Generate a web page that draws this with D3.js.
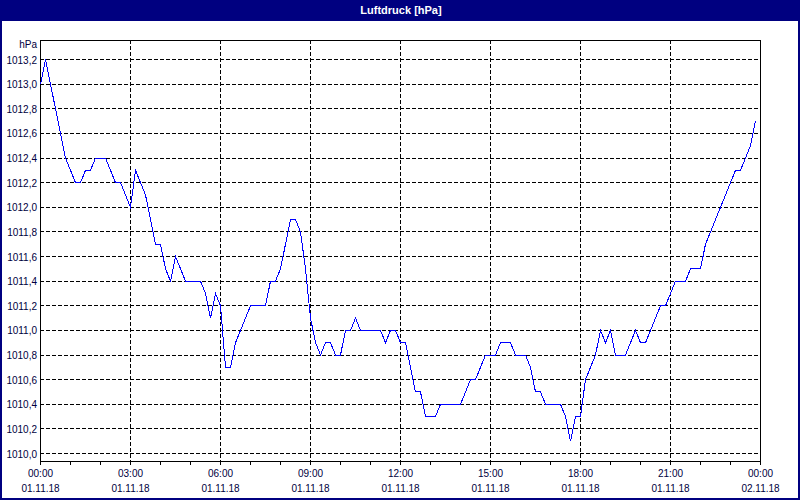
<!DOCTYPE html>
<html>
<head>
<meta charset="utf-8">
<script src="https://cdn.jsdelivr.net/npm/d3@7"></script>
<style>
html,body{margin:0;padding:0;background:#fff;}
svg{display:block;}
text{font-family:"Liberation Sans",Arial,sans-serif;}
</style>
</head>
<body>
<svg id="chart" width="800" height="500"></svg>
<script>
// ---- data ----
const title = "Luftdruck [hPa]";
const unitLabel = "hPa";
const startTime = "2018-11-01T00:00:00";
const endTime = "2018-11-02T00:00:00";
const sampleMinutes = 10;
// air pressure readings, one every 10 minutes from 00:00 to 23:50
const pressure = [
  1013.0,1013.2,1013.0,1012.8,1012.6,1012.4,1012.3,1012.2,1012.2,1012.3,
  1012.3,1012.4,1012.4,1012.4,1012.3,1012.2,1012.2,1012.1,1012.0,1012.3,
  1012.2,1012.1,1011.9,1011.7,1011.7,1011.5,1011.4,1011.6,1011.5,1011.4,
  1011.4,1011.4,1011.4,1011.3,1011.1,1011.3,1011.2,1010.7,1010.7,1010.9,
  1011.0,1011.1,1011.2,1011.2,1011.2,1011.2,1011.4,1011.4,1011.5,1011.7,
  1011.9,1011.9,1011.8,1011.5,1011.1,1010.9,1010.8,1010.9,1010.9,1010.8,
  1010.8,1011.0,1011.0,1011.1,1011.0,1011.0,1011.0,1011.0,1011.0,1010.9,
  1011.0,1011.0,1010.9,1010.9,1010.7,1010.5,1010.5,1010.3,1010.3,1010.3,
  1010.4,1010.4,1010.4,1010.4,1010.4,1010.5,1010.6,1010.6,1010.7,1010.8,
  1010.8,1010.8,1010.9,1010.9,1010.9,1010.8,1010.8,1010.8,1010.7,1010.5,
  1010.5,1010.4,1010.4,1010.4,1010.4,1010.3,1010.1,1010.3,1010.3,1010.6,
  1010.7,1010.8,1011.0,1010.9,1011.0,1010.8,1010.8,1010.8,1010.9,1011.0,
  1010.9,1010.9,1011.0,1011.1,1011.2,1011.2,1011.3,1011.4,1011.4,1011.4,
  1011.5,1011.5,1011.5,1011.7,1011.8,1011.9,1012.0,1012.1,1012.2,1012.3,
  1012.3,1012.4,1012.5,1012.7
];
const yTicks = [1010.0,1010.2,1010.4,1010.6,1010.8,1011.0,1011.2,1011.4,1011.6,1011.8,1012.0,1012.2,1012.4,1012.6,1012.8,1013.0,1013.2];
const xTickHours = [0,3,6,9,12,15,18,21,24];

// ---- layout ----
const W = 800, H = 500;
const L = 40, R = 760, T = 40, B = 461;
const navy = "#000080", textCol = "#000040";

const svg = d3.select("#chart");
const parse = d3.isoParse;
const t0 = parse(startTime), t1 = parse(endTime);
const times = d3.timeMinute.every(sampleMinutes).range(t0, t1);
const data = pressure.map((v, i) => ({t: times[i], v}));

const x = d3.scaleTime().domain([t0, t1]).range([L + 0.5, R + 0.5]);
const y = d3.scaleLinear().domain([1010.0, 1013.2]).range([453.5, 59.5]);

// background + frame
svg.append("rect").attr("x",0).attr("y",0).attr("width",W).attr("height",H).attr("fill","#fff");
svg.append("rect").attr("x",1).attr("y",1).attr("width",W-2).attr("height",H-2)
  .attr("fill","none").attr("stroke",navy).attr("stroke-width",2);
svg.append("rect").attr("x",0).attr("y",0).attr("width",W).attr("height",21).attr("fill",navy);
svg.append("text").attr("x",401).attr("y",14).attr("text-anchor","middle")
  .attr("fill","#fff").attr("font-weight","bold").attr("font-size","11px").text(title);

// horizontal grid
const g = svg.append("g").attr("shape-rendering","crispEdges");
g.selectAll(".hg").data(yTicks).join("line")
  .attr("x1", L).attr("x2", R)
  .attr("y1", d => Math.round(y(d) - 0.5) + 0.5).attr("y2", d => Math.round(y(d) - 0.5) + 0.5)
  .attr("stroke","#000").attr("stroke-dasharray","4,2");

// vertical grid every 3 hours
const vTimes = xTickHours.map(h => d3.timeHour.offset(t0, h));
g.selectAll(".vg").data(vTimes.slice(1, -1)).join("line")
  .attr("x1", d => Math.round(x(d) - 0.5) + 0.5).attr("x2", d => Math.round(x(d) - 0.5) + 0.5)
  .attr("y1", T).attr("y2", B)
  .attr("stroke","#000").attr("stroke-dasharray","4,2");

// plot frame
g.append("rect").attr("x", L + 0.5).attr("y", T + 0.5).attr("width", R - L).attr("height", B - T)
  .attr("fill","none").attr("stroke","#000");

// hourly ticks below axis
const hours = d3.timeHour.range(t0, d3.timeHour.offset(t1, 1));
g.selectAll(".tk").data(hours).join("line")
  .attr("x1", d => Math.round(x(d) - 0.5) + 0.5).attr("x2", d => Math.round(x(d) - 0.5) + 0.5)
  .attr("y1", B + 0.5).attr("y2", B + 4)
  .attr("stroke","#000");

// y labels
const fmtY = d => d.toFixed(1).replace(".", ",");
svg.selectAll(".yl").data(yTicks).join("text")
  .attr("x", 37).attr("y", d => y(d) + 4)
  .attr("text-anchor","end").attr("font-size","10px").attr("fill",textCol)
  .text(fmtY);
svg.append("text").attr("x", 37).attr("y", 48).attr("text-anchor","end")
  .attr("font-size","10px").attr("fill",textCol).text(unitLabel);

// x labels
const fmtT = d3.timeFormat("%H:%M"), fmtD = d3.timeFormat("%d.%m.%y");
const xl = svg.selectAll(".xl").data(vTimes).join("g");
xl.append("text").attr("x", d => x(d)).attr("y", 477).attr("text-anchor","middle")
  .attr("font-size","10px").attr("fill",textCol).text(fmtT);
xl.append("text").attr("x", d => x(d)).attr("y", 492).attr("text-anchor","middle")
  .attr("font-size","10px").attr("fill",textCol).text(fmtD);

// line
const line = d3.line().x(d => x(d.t)).y(d => y(d.v));
svg.append("path").datum(data).attr("d", line)
  .attr("fill","none").attr("stroke","#0000ff").attr("stroke-width",1)
  .attr("shape-rendering","crispEdges");
</script>
</body>
</html>
